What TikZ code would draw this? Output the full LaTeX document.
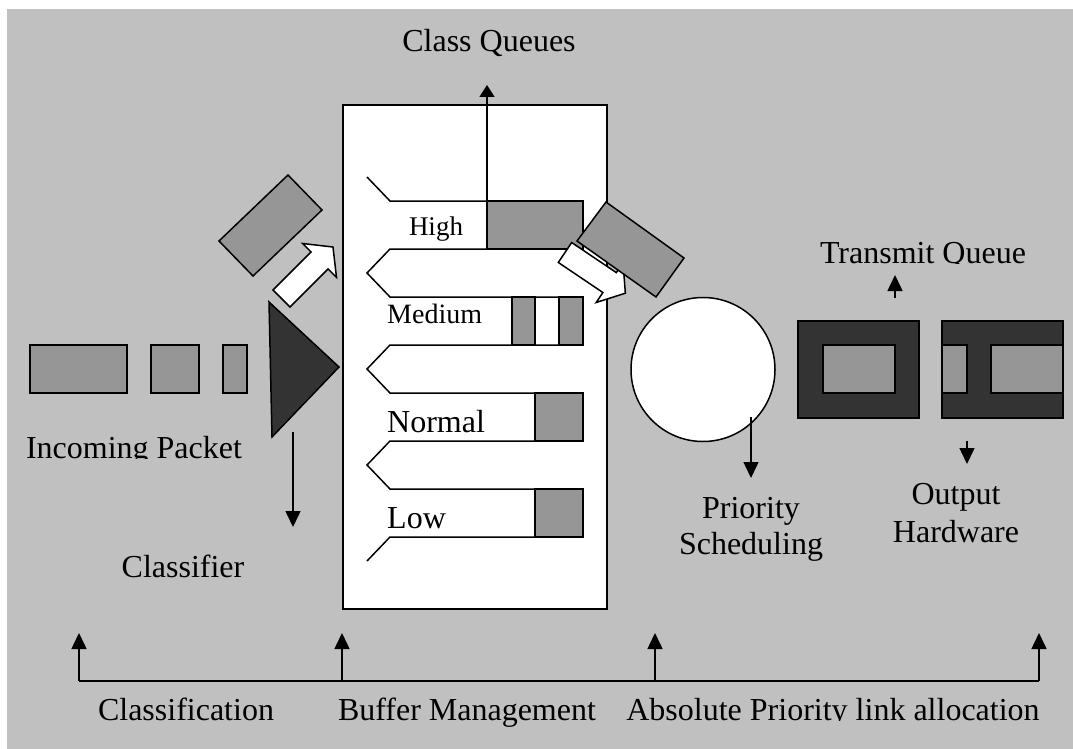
\documentclass[tikz,border=0pt]{standalone}
\usepackage{fontspec}
\setmainfont{Liberation Serif}
\usetikzlibrary{arrows.meta}
\definecolor{panel}{HTML}{C0C0C0}
\definecolor{pkt}{HTML}{969696}
\definecolor{dark}{HTML}{333333}
\tikzset{
  lbl/.style={inner sep=0pt, anchor=base, font=\fontsize{32}{36}\selectfont},
  pktbox/.style={draw, fill=pkt, line width=1.5pt},
  darkbox/.style={draw, fill=dark, line width=1.5pt},
  ptr/.style={line width=1.5pt, -{Triangle[length=16pt,width=15pt]}},
  blockarrow/.style={draw, fill=white, line width=1.5pt},
  blockarr/.pic={
    \path[blockarrow] (0,-12) -- (53.8,-12) -- (53.8,-24) -- (72.8,0)
      -- (53.8,24) -- (53.8,12) -- (0,12) -- cycle;
  },
}
\begin{document}
\begin{tikzpicture}[x=1pt, y=-1pt]
\useasboundingbox[fill=white] (0,0) rectangle (1073,749);
\fill[panel] (7,9) rectangle (1073,749);

% ---- buffer with the four class queues ----
\node[draw, fill=white, line width=2pt, minimum width=264pt, minimum height=504pt,
      inner sep=0pt] (buf) at (475,357) {};
\draw[line width=1.5pt, line join=miter]
  (367,177) -- (390,201) -- (583,201) -- (583,249) -- (390,249)
  -- (367,273) -- (390,297) -- (583,297) -- (583,345) -- (390,345)
  -- (367,369) -- (390,393) -- (583,393) -- (583,441) -- (390,441)
  -- (367,465) -- (390,489) -- (583,489) -- (583,537) -- (390,537)
  -- (367,561);
\path[pktbox] (487,201) rectangle (583,249);
\path[pktbox] (512,297) rectangle (535,345);
\path[pktbox] (559,297) rectangle (583,345);
\path[pktbox] (535,393) rectangle (583,441);
\path[pktbox] (535,489) rectangle (583,537);

\node[lbl, font=\fontsize{27}{30}\selectfont] (qhigh) at (436,235) {High};
\node[lbl, anchor=base west, font=\fontsize{28}{32}\selectfont] (qmed) at (387,323) {Medium};
\node[lbl, anchor=base west] (qnorm) at (387,432) {Normal};
\node[lbl, anchor=base west] (qlow) at (387,528) {Low};

\coordinate (cq-foot) at (487,249);
\coordinate (cq-tip) at (487,85);
\draw[line width=1.5pt, -{Triangle[length=12pt,width=15pt]}] (cq-foot) -- (cq-tip);
\node[lbl] (cq) at (489,52) {Class Queues};

% ---- incoming packets and classifier ----
\path[pktbox] (30,345) rectangle (127,393);
\path[pktbox] (151,345) rectangle (199,393);
\path[pktbox] (223,345) rectangle (247,393);
\path[darkbox] (269,302) -- (339,367) -- (272,437) -- cycle;
\path[pktbox] (288,175) -- (322,210) -- (253,276) -- (219,241) -- cycle;
\pic[rotate=45] at (281.5,298.5) {blockarr};

\begin{scope}
  \clip (0,420) rectangle (340,458);
  \node[lbl] (inpkt) at (134,458) {Incoming Packet};
\end{scope}
\coordinate (cl-foot) at (293,432);
\coordinate (cl-tip) at (293,527);
\draw[ptr] (cl-foot) -- (cl-tip);
\node[lbl] (clsf) at (183,577) {Classifier};

% ---- scheduler ----
\pic[rotate=-34] at (565,252.5) {blockarr};
\path[pktbox] (606,202) -- (684,258) -- (656,297) -- (577,241) -- cycle;
\node[circle, draw, fill=white, line width=1.5pt, minimum size=144pt,
      inner sep=0pt] (sched) at (703,369.5) {};
\coordinate (ps-foot) at (751,417);
\coordinate (ps-tip) at (751,478);
\draw[ptr] (ps-foot) -- (ps-tip);
\node[lbl] (prio1) at (751,518) {Priority};
\node[lbl] (prio2) at (751,554) {Scheduling};

% ---- transmit queue / output hardware ----
\path[darkbox] (798,321) rectangle (919,418);
\path[pktbox] (823,345) rectangle (895,393);
\path[darkbox] (942,321) rectangle (1063,418);
\path[pktbox] (942,345) rectangle (967,393);
\path[pktbox] (991,345) rectangle (1063,393);

\coordinate (tq-foot) at (895,298);
\coordinate (tq-tip) at (895,275);
\draw[ptr] (tq-foot) -- (tq-tip);
\begin{scope}
  \clip (780,230) rectangle (1060,263);
  \node[lbl] (txq) at (923,263) {Transmit Queue};
\end{scope}

\coordinate (oh-foot) at (967,441);
\coordinate (oh-tip) at (967,464);
\draw[ptr] (oh-foot) -- (oh-tip);
\node[lbl] (out1) at (956,504) {Output};
\node[lbl] (out2) at (956,542) {Hardware};

% ---- stage axis ----
\coordinate (ax0) at (79,681);
\coordinate (ax1) at (342,681);
\coordinate (ax2) at (655,681);
\coordinate (ax3) at (1039,681);
\draw[line width=2pt] (ax0) -- (ax3);
\foreach \p in {ax0,ax1,ax2,ax3}
  \draw[ptr] (\p) -- ++(0,-48);
\node[lbl] (st1) at (186,720) {Classification};
\node[lbl] (st2) at (467,720) {Buffer Management};
\begin{scope}
  \clip (600,690) rectangle (1060,720);
  \node[lbl] (st3) at (833,720) {Absolute Priority link allocation};
\end{scope}
\end{tikzpicture}
\end{document}
